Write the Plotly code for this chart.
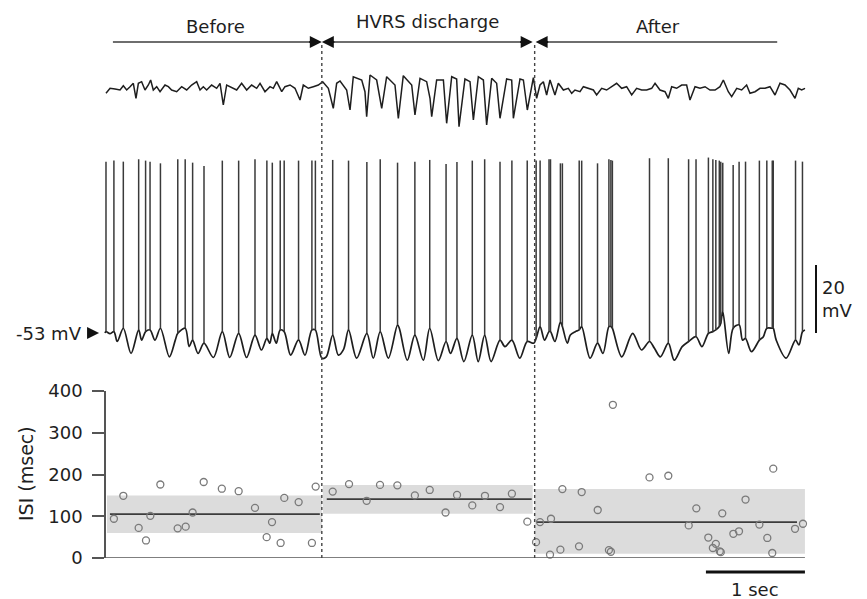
import plotly.graph_objects as go

# ---------------- data ----------------
# Field potential (arbitrary units), vertices
lfp_t = [0.010, 0.051, 0.101, 0.152, 0.185, 0.219, 0.253, 0.286, 0.313, 0.337, 0.370, 0.404, 0.438, 0.461,
         0.488, 0.522, 0.556, 0.606, 0.640, 0.673, 0.724, 0.774, 0.825, 0.875, 0.926, 0.960, 0.993, 1.027,
         1.077, 1.128, 1.162, 1.195, 1.229, 1.263, 1.296, 1.330, 1.380, 1.431, 1.481, 1.532, 1.566, 1.616,
         1.667, 1.700, 1.734, 1.785, 1.818, 1.869, 1.919, 1.970, 2.003, 2.054, 2.104, 2.155, 2.199,
         2.256, 2.306, 2.340, 2.374, 2.441, 2.475, 2.508, 2.593, 2.626, 2.643, 2.677, 2.744, 2.778, 2.795,
         2.845, 2.929, 2.963, 3.013, 3.098, 3.131, 3.182, 3.249, 3.283, 3.300, 3.350, 3.418, 3.451, 3.502,
         3.552, 3.576, 3.636, 3.687, 3.721, 3.771, 3.822, 3.855, 3.906, 3.956, 3.990, 4.057, 4.108, 4.125,
         4.192, 4.226, 4.266, 4.327,
         4.360, 4.394, 4.428, 4.461, 4.495, 4.545, 4.579, 4.630, 4.680, 4.714, 4.747, 4.798, 4.832, 4.882,
         4.933, 4.966, 5.017, 5.067, 5.118, 5.168, 5.219, 5.269, 5.320, 5.370, 5.421, 5.471, 5.522, 5.556,
         5.606, 5.657, 5.690, 5.724, 5.774, 5.825, 5.875, 5.909, 5.960, 6.010, 6.061, 6.111, 6.162, 6.212,
         6.246, 6.296, 6.330, 6.381, 6.431, 6.481, 6.515, 6.566, 6.616, 6.667, 6.717, 6.768, 6.818, 6.869,
         6.919, 6.970, 7.003, 7.037, 7.071]
lfp_v = [-3.3, 1.7, 1.0, 0.0, 4.3, 0.0, 3.3, 6.7, -8.3, 6.7, 8.3, 0.0, 5.0, 10.0,
         0.0, 3.3, -1.7, 5.0, 3.3, 0.0, -1.7, 3.3, 0.0, 5.0, 8.3, 0.0, 3.3, 0.0,
         5.0, 1.7, 6.7, -15.0, 5.0, 3.3, 1.7, 0.0, 6.7, 0.0, 5.0, 1.7, 6.7, -1.7,
         3.3, 1.7, 8.3, -1.7, 3.3, 5.0, 1.7, -10.0, 5.0, 1.7, 3.3, 5.0, 8.3,
         1.7, -18.3, 6.7, 9.0, 0.0, -20.0, 13.3, 10.0, -1.7, -26.7, 15.0, 10.0, -11.7, -18.3,
         13.3, 5.0, -28.3, 14.3, 5.0, -25.0, 11.7, 8.3, -8.3, -26.7, 10.0, 10.0, -33.3, 13.3,
         11.0, -36.7, 11.0, 8.3, -30.0, 13.3, 10.0, -35.0, 11.7, 6.7, -28.3, 11.0, 10.0, -28.3,
         11.0, 10.0, -20.0, 12.3,
         -8.3, 5.0, 8.3, -5.0, 10.0, -5.0, 6.7, 0.0, 1.7, -3.3, 0.0, -1.7, 3.3, 1.7,
         0.0, -5.0, 1.7, 0.0, 3.3, 6.7, 1.7, 3.3, -5.0, 1.7, 0.0, 0.0, 1.7, 6.7,
         0.0, -1.7, -8.3, 3.3, 1.7, 5.0, 5.0, -10.0, 3.3, 1.7, 3.3, 0.0, 0.0, 3.3,
         10.0, -1.7, -6.7, 1.7, 0.0, 5.0, -3.3, -1.7, 1.7, 1.7, 3.3, -5.0, 6.7, 5.0,
         0.0, -8.3, 1.7, 0.0, 1.7]

# Membrane potential (mV): subthreshold vertices between spikes
sub_t = [0.000, 0.050, 0.124, 0.263, 0.370, 0.505, 0.650, 0.710, 0.850, 0.940, 1.095, 1.260, 1.430,
         1.580, 1.665, 1.730, 1.875, 2.020, 2.190,
         2.235, 2.357, 2.410, 2.542, 2.710, 2.862, 2.975, 3.054, 3.215, 3.367, 3.490, 3.625, 3.770,
         3.900, 4.040, 4.190, 4.330,
         4.440, 4.545, 4.670, 4.700, 4.750, 4.900, 5.030, 5.220, 5.330, 5.420, 5.550, 5.610, 5.750,
         5.830, 6.030, 6.300, 6.440, 6.530, 6.650, 6.780, 6.880, 7.010, 7.070]
sub_v = [-53.0, -53.2, -55.5, -59.0, -55.1, -55.1, -60.0, -55.1, -57.0, -59.0, -60.2, -60.2, -60.2,
         -58.0, -56.0, -56.0, -59.5, -59.5, -60.4,
         -60.0, -59.5, -57.8, -60.4, -60.4, -60.4, -51.8, -61.0, -61.0, -61.1, -59.0, -61.4, -61.4,
         -61.4, -57.0, -60.4, -56.0,
         -55.1, -55.5, -56.0, -53.6, -52.6, -60.4, -59.0, -60.0, -53.1, -58.0, -57.5, -60.0, -61.0,
         -57.0, -57.0, -59.0, -55.1, -58.5, -54.1, -55.1, -60.4, -56.5, -52.1]

# Action potentials: time (s), take-off potential (mV), peak (mV)
spike_t = [0.010, 0.090, 0.185, 0.340, 0.410, 0.455, 0.560, 0.735, 0.810, 0.885, 1.000, 1.185, 1.350,
           1.515, 1.635, 1.690, 1.770, 1.810, 1.955, 2.090, 2.125,
           2.300, 2.460, 2.645, 2.780, 2.955, 3.130, 3.280, 3.445, 3.555, 3.710, 3.835, 3.990, 4.110, 4.265,
           4.355, 4.395, 4.485, 4.500, 4.600, 4.620, 4.790, 4.815, 4.975, 5.090, 5.110, 5.125, 5.500,
           5.690, 5.895, 5.970, 6.095, 6.140, 6.170, 6.205, 6.220, 6.240, 6.345, 6.405, 6.470, 6.610,
           6.685, 6.740, 6.750, 6.975, 7.045]
spike_base = [-52.6, -52.6, -51.6, -52.1, -52.6, -52.1, -51.6, -53.1, -51.6, -55.1, -56.0, -52.6, -53.1,
              -53.6, -54.6, -53.1, -52.1, -52.6, -55.0, -52.1, -52.1,
              -53.6, -52.1, -53.1, -52.6, -50.6, -53.6, -51.6, -55.5, -54.6, -53.6, -53.6, -55.1, -55.1, -55.5,
              -54.6, -51.1, -52.6, -52.6, -49.7, -51.1, -52.1, -51.1, -56.0, -51.1, -51.1, -51.6, -55.5,
              -56.0, -55.5, -54.1, -53.1, -52.6, -52.1, -51.1, -50.1, -46.6, -51.6, -50.6, -54.6, -55.1,
              -51.6, -51.6, -51.6, -55.1, -52.6]
spike_peak = [-2.6, -2.3, -2.6, -1.9, -2.3, -2.6, -3.1, -1.9, -1.9, -2.9, -3.9, -2.3, -2.3,
              -1.9, -2.3, -2.9, -2.3, -2.3, -2.3, -2.3, -2.3,
              -2.1, -2.3, -2.7, -1.9, -2.9, -2.6, -2.1, -3.3, -2.7, -2.3, -1.9, -2.6, -2.3, -2.3,
              -2.3, -2.3, -1.9, -1.9, -3.1, -3.1, -2.3, -2.3, -3.1, -1.9, -2.1, -2.3, -1.6,
              -1.6, -1.9, -1.9, -1.4, -1.9, -2.1, -2.3, -2.6, -2.9, -3.6, -2.6, -2.6, -2.3,
              -2.3, -2.3, -2.3, -2.3, -2.6]

# Inter-spike intervals
isi_t = [0.090, 0.185, 0.340, 0.414, 0.458, 0.559, 0.734, 0.815, 0.885, 0.997, 1.180, 1.350, 1.515,
         1.633, 1.687, 1.774, 1.811, 1.956, 2.090, 2.128,
         2.300, 2.465, 2.643, 2.778, 2.953, 3.130, 3.280, 3.440, 3.556, 3.710, 3.838, 3.990, 4.110, 4.266,
         4.354, 4.394, 4.495, 4.505, 4.600, 4.620, 4.788, 4.815, 4.977, 5.090, 5.110, 5.130, 5.500,
         5.690, 5.896, 5.973, 6.094, 6.140, 6.170, 6.210, 6.220, 6.235, 6.347, 6.404, 6.470, 6.610,
         6.690, 6.740, 6.750, 6.970, 7.050]
isi_ms = [94, 149, 72, 42, 101, 176, 71, 75, 109, 182, 166, 160, 120,
          50, 86, 36, 144, 134, 36, 171,
          159, 177, 137, 175, 174, 150, 163, 109, 151, 126, 149, 122, 154, 87,
          38, 86, 8, 94, 20, 165, 28, 158, 115, 19, 15, 367, 193,
          197, 78, 119, 49, 24, 34, 16, 14, 107, 58, 64, 140, 80,
          48, 12, 214, 70, 82]

period_names = ["Before", "HVRS discharge", "After"]
period_edges = [2.19, 4.34]                 # s, dotted separators
band_start = [0.02, 2.20, 4.34]
band_end = [2.19, 4.32, 7.07]
mean_start = [0.05, 2.24, 4.36]
mean_end = [2.17, 4.31, 6.99]
isi_mean = [105, 141, 86]
isi_low = [60, 106, 10]
isi_high = [150, 175, 165]
isi_ticks = [0, 100, 200, 300, 400]
header_start = [0.08, 2.22, 4.38]
header_end = [2.16, 4.29, 6.79]
rest_mv = -53
scale_mv = 20
scale_s = 1

# ---------------- layout helpers ----------------
W, H = 867, 599
PX_PER_S = 99.0
X0_PX = 105.0
def fy(py):
    return 1 - py / H

FONT = "DejaVu Sans"
INK = "#1e1e1e"

fig = go.Figure()

# ISI SD bands and means
for i in range(3):
    fig.add_trace(go.Scatter(
        x=[band_start[i], band_end[i], band_end[i], band_start[i], band_start[i]],
        y=[isi_low[i], isi_low[i], isi_high[i], isi_high[i], isi_low[i]],
        fill="toself", fillcolor="#dcdcdc", line=dict(width=0), mode="lines",
        hoverinfo="skip", showlegend=False, yaxis="y"))
for i in range(3):
    fig.add_trace(go.Scatter(
        x=[mean_start[i], mean_end[i]], y=[isi_mean[i], isi_mean[i]],
        mode="lines", line=dict(color="#3c3c3c", width=1.6), showlegend=False, yaxis="y"))

fig.add_trace(go.Scatter(
    x=isi_t, y=isi_ms, mode="markers", cliponaxis=False,
    marker=dict(symbol="circle-open", size=7, color="#7a7a7a", line=dict(width=1.3, color="#7a7a7a")),
    showlegend=False, yaxis="y"))

# Field potential
fig.add_trace(go.Scatter(x=lfp_t, y=lfp_v, mode="lines",
                         line=dict(color=INK, width=1.5), showlegend=False, yaxis="y3"))

# Membrane potential: subthreshold + spikes
pts = sorted(zip(sub_t + spike_t, sub_v + spike_base))
fig.add_trace(go.Scatter(x=[p[0] for p in pts], y=[p[1] for p in pts], mode="lines",
                         line=dict(color=INK, width=1.7, shape="spline", smoothing=0.9),
                         showlegend=False, yaxis="y2"))
sx, sy = [], []
for t, b, p in zip(spike_t, spike_base, spike_peak):
    sx += [t, t, None]
    sy += [b, p, None]
fig.add_trace(go.Scatter(x=sx, y=sy, mode="lines", line=dict(color="#3a3a3a", width=1.5),
                         showlegend=False, yaxis="y2"))

shapes = []
# ISI x baseline
shapes.append(dict(type="line", xref="x", yref="y", x0=-12 / PX_PER_S, x1=band_end[2], y0=0, y1=0,
                   line=dict(color="#555555", width=1.5)))
# dotted separators
for e in period_edges:
    shapes.append(dict(type="line", xref="x", yref="paper", x0=e, x1=e, y0=fy(558), y1=fy(45),
                       line=dict(color="#444444", width=1.4, dash="dot")))
# header shafts
for s, e in zip(header_start, header_end):
    shapes.append(dict(type="line", xref="x", yref="paper", x0=s, x1=e, y0=fy(42), y1=fy(42),
                       line=dict(color="#6e6e6e", width=2)))
# 20 mV scale bar
shapes.append(dict(type="line", xref="x", yref="y2", x0=711 / PX_PER_S, x1=711 / PX_PER_S,
                   y0=rest_mv, y1=rest_mv + scale_mv, line=dict(color="#111111", width=2)))
# 1 sec scale bar
shapes.append(dict(type="line", xref="x", yref="paper", x0=band_end[2] - scale_s, x1=band_end[2],
                   y0=fy(572), y1=fy(572), line=dict(color="#111111", width=3)))

ann = []
for name, s, e, py in zip(period_names, header_start, header_end, [26, 22, 26]):
    ann.append(dict(text=name, x=(s + e) / 2, y=fy(py), xref="x", yref="paper", showarrow=False,
                    xanchor="center", yanchor="middle",
                    font=dict(family=FONT, size=18, color=INK)))
# arrow heads
heads = [(header_end[0], 1), (header_start[1], -1), (header_end[1], 1), (header_start[2], -1)]
for hx, d in heads:
    ann.append(dict(text="", x=hx + d * 0.03, y=fy(42), xref="x", yref="paper",
                    ax=-d * 14, ay=0, axref="pixel", ayref="pixel", showarrow=True,
                    arrowhead=2, arrowsize=1.2, arrowwidth=2, arrowcolor="#111111"))
ann.append(dict(text="-53 mV", x=14 / W, y=rest_mv, xref="paper", yref="y2", xanchor="left",
                yanchor="middle", showarrow=False, font=dict(family=FONT, size=18, color=INK)))
ann.append(dict(text="", x=-0.06, y=rest_mv, xref="x", yref="y2", ax=-12, ay=0,
                showarrow=True, arrowhead=2, arrowsize=1.2, arrowwidth=2, arrowcolor="#111111"))
ann.append(dict(text="20<br>mV", x=820 / W, y=fy(299), xref="paper", yref="paper", xanchor="left",
                yanchor="middle", align="left", showarrow=False,
                font=dict(family=FONT, size=18, color=INK)))
ann.append(dict(text="1 sec", x=band_end[2] - scale_s / 2, y=fy(589), xref="x", yref="paper",
                xanchor="center", yanchor="middle", showarrow=False,
                font=dict(family=FONT, size=18, color=INK)))
ann.append(dict(text="ISI (msec)", x=26 / W, y=fy(474), xref="paper", yref="paper", textangle=-90,
                xanchor="center", yanchor="middle", showarrow=False,
                font=dict(family=FONT, size=19, color=INK)))

fig.update_layout(
    width=W, height=H, autosize=False,
    margin=dict(l=0, r=0, t=0, b=0, pad=0, autoexpand=False),
    paper_bgcolor="white", plot_bgcolor="white",
    xaxis=dict(domain=[0, 1], range=[-X0_PX / PX_PER_S, (W - X0_PX) / PX_PER_S], visible=False),
    yaxis=dict(domain=[fy(558), fy(391)], range=[0, 400], anchor="free", position=X0_PX / W,
               tickvals=isi_ticks, ticks="outside", ticklen=12, tickwidth=1.5, tickcolor="#555555",
               showline=True, linecolor="#555555", linewidth=1.5, showgrid=False, zeroline=False,
               automargin=False,
               tickfont=dict(family=FONT, size=18, color=INK), ticklabelstandoff=6),
    yaxis2=dict(domain=[fy(370), fy(150)], range=[-63.88, 0.82], visible=False),
    yaxis3=dict(domain=[fy(140), fy(60)], range=[-50, 30], visible=False),
    shapes=shapes, annotations=ann, showlegend=False,
)

fig.write_html("out.html", config={"displayModeBar": False},
               post_script="document.body.style.margin='0px';")
